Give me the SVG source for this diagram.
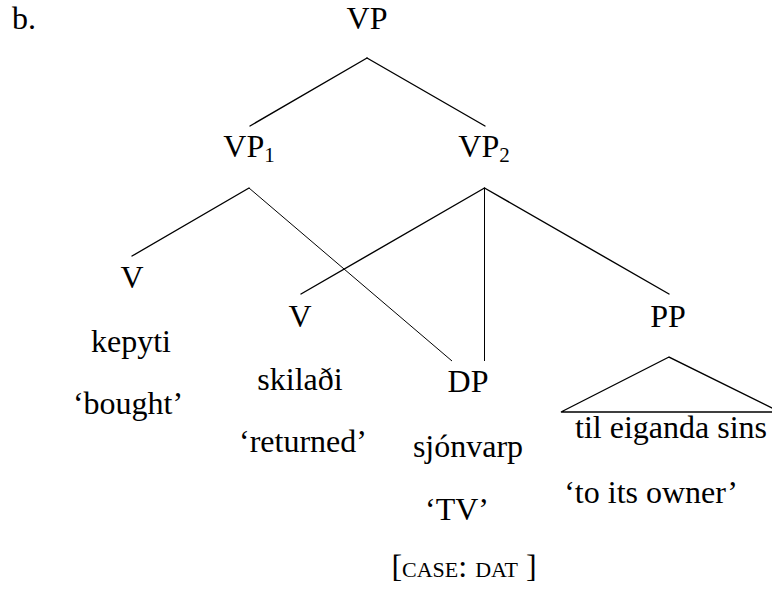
<svg xmlns="http://www.w3.org/2000/svg" width="772" height="596" viewBox="0 0 772 596">
  <style>
    text { font-family: "Liberation Serif", Tinos, "Noto Serif", "DejaVu Serif", "Times New Roman", Times, "Nimbus Roman", FreeSerif, serif; font-size: 32px; fill: #000; }
    .c { text-anchor: middle; }
    .sub { font-size: 21px; }
    .sc { font-variant: small-caps; }
    .edge { stroke: #000; stroke-width: 1.4; fill: none; stroke-linecap: round; }
    .thin { stroke: #000; stroke-width: 1; fill: none; }
  </style>
  <rect width="772" height="596" fill="#fff"/>

  <text x="12" y="29">b.</text>

  <!-- tree branches -->
  <g id="connectors">
    <line class="edge" x1="367" y1="58" x2="250" y2="126"/>
    <line class="edge" x1="367" y1="58" x2="485" y2="126"/>
    <line class="edge" x1="249" y1="188" x2="132" y2="256"/>
    <line class="thin" x1="249" y1="188" x2="452" y2="361"/>
    <line class="edge" x1="484.5" y1="188" x2="301" y2="294"/>
    <line class="thin" x1="484.5" y1="188" x2="484.5" y2="361" stroke="#555"/>
    <line class="edge" x1="484.5" y1="188" x2="669" y2="294"/>
    <polygon class="edge" points="669,357 561,412 780,412" stroke-linejoin="miter"/>
  </g>

  <g id="vp"><text class="c" x="367" y="29">VP</text></g>
  <g id="vp1"><text class="c" x="249" y="157">VP<tspan class="sub" dy="5">1</tspan></text></g>
  <g id="vp2"><text class="c" x="484" y="157">VP<tspan class="sub" dy="5">2</tspan></text></g>

  <g id="v1">
    <text class="c" x="132" y="288">V</text>
    <text class="c" x="131" y="352">kepyti</text>
    <text class="c" x="128" y="414">‘bought’</text>
  </g>

  <g id="v2">
    <text class="c" x="300" y="327">V</text>
    <text class="c" x="300" y="390">skilaði</text>
    <text class="c" x="303" y="452">‘returned’</text>
  </g>

  <g id="dp">
    <text class="c" x="468" y="392">DP</text>
    <text class="c" x="468" y="457">sjónvarp</text>
    <text class="c" x="457" y="520">‘TV’</text>
    <text class="c" x="464" y="577">[<tspan class="sc">case: dat</tspan> ]</text>
  </g>

  <g id="pp">
    <text class="c" x="668" y="327">PP</text>
    <text class="c" x="671" y="438">til eiganda sins</text>
    <text class="c" x="651" y="503">‘to its owner’</text>
  </g>
</svg>
